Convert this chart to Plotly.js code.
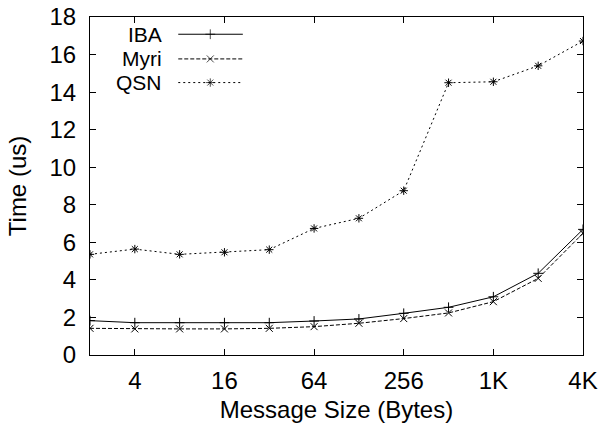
<!DOCTYPE html>
<html>
<head>
<meta charset="utf-8">
<script src="https://cdn.plot.ly/plotly-3.0.1.min.js"></script>
<style>html,body{margin:0;padding:0;background:#fff}#chart{width:600px;height:434px}</style>
</head>
<body>
<div id="chart"></div>
<script>
var sizes = [2, 4, 8, 16, 32, 64, 128, 256, 512, 1024, 2048, 4096];
var iba  = [1.83, 1.72, 1.72, 1.72, 1.72, 1.81, 1.92, 2.22, 2.54, 3.10, 4.35, 6.69];
var myri = [1.42, 1.39, 1.39, 1.39, 1.42, 1.51, 1.69, 1.94, 2.24, 2.84, 4.08, 6.48];
var qsn  = [5.36, 5.64, 5.36, 5.47, 5.61, 6.74, 7.28, 8.75, 14.50, 14.55, 15.40, 16.72];
var xTickVals = [4, 16, 64, 256, 1024, 4096];
var xTickText = ["4", "16", "64", "256", "1K", "4K"];
var seriesNames = ["IBA", "Myri", "QSN"];

var FONT = "Liberation Sans, Arial, Helvetica, sans-serif";
var FS = 24;
var KEY_FS = 21;
var styles = [
  {dash: "solid", symbol: "cross-thin-open"},
  {dash: "4px,2px", symbol: "x-thin-open"},
  {dash: "2px,3px", symbol: "asterisk-open"}
];
var dataSets = [iba, myri, qsn];

var traces = [];
dataSets.forEach(function (ys, i) {
  traces.push({
    x: sizes, y: ys, type: "scatter", mode: "lines+markers",
    name: seriesNames[i], showlegend: false,
    line: {color: "#000", width: 1, dash: styles[i].dash},
    marker: {symbol: styles[i].symbol, size: 7, color: "#000", line: {color: "#000", width: 1}}
  });
});

// custom gnuplot-style key (text right, sample on the right)
var keyY = [0.949, 0.876, 0.806];
var annotations = [];
seriesNames.forEach(function (n, i) {
  traces.push({
    x: [0.179, 0.244, 0.310], y: [keyY[i], keyY[i], keyY[i]],
    xaxis: "x2", yaxis: "y2", type: "scatter", mode: "lines+markers",
    showlegend: false, hoverinfo: "skip",
    line: {color: "#000", width: 1, dash: styles[i].dash},
    marker: {symbol: styles[i].symbol, size: [0, 7, 0], color: "#000", line: {color: "#000", width: 1}}
  });
  annotations.push({
    text: n, xref: "paper", yref: "paper", x: 0.1475, y: keyY[i],
    xanchor: "right", yanchor: "middle", showarrow: false, borderpad: 0,
    font: {family: FONT, size: KEY_FS, color: "#000"}
  });
});

var layout = {
  width: 600, height: 434,
  margin: {l: 90, r: 17, t: 17, b: 79},
  paper_bgcolor: "#fff", plot_bgcolor: "#fff",
  showlegend: false,
  font: {family: FONT, size: FS, color: "#000"},
  xaxis: {
    type: "log", range: [Math.log10(2), Math.log10(4096)],
    tickvals: xTickVals, ticktext: xTickText,
    ticks: "inside", ticklen: 6, tickcolor: "#000", tickwidth: 1,
    showline: true, linecolor: "#000", linewidth: 1, mirror: "ticks",
    showgrid: false, zeroline: false, ticklabelstandoff: 4,
    tickfont: {family: FONT, size: FS, color: "#000"},
    title: {text: "Message Size (Bytes)", font: {family: FONT, size: FS, color: "#000"}, standoff: 8}
  },
  yaxis: {
    range: [0, 18], dtick: 2, tick0: 0,
    ticks: "inside", ticklen: 6, tickcolor: "#000", tickwidth: 1,
    showline: true, linecolor: "#000", linewidth: 1, mirror: "ticks",
    showgrid: false, zeroline: false, ticklabelstandoff: 8,
    tickfont: {family: FONT, size: FS, color: "#000"},
    title: {text: "Time (us)", font: {family: FONT, size: FS, color: "#000"}, standoff: 16}
  },
  xaxis2: {overlaying: "x", range: [0, 1], visible: false, fixedrange: true},
  yaxis2: {overlaying: "y", range: [0, 1], visible: false, fixedrange: true},
  annotations: annotations
};

Plotly.newPlot("chart", traces, layout, {staticPlot: true, displayModeBar: false});
</script>
</body>
</html>
